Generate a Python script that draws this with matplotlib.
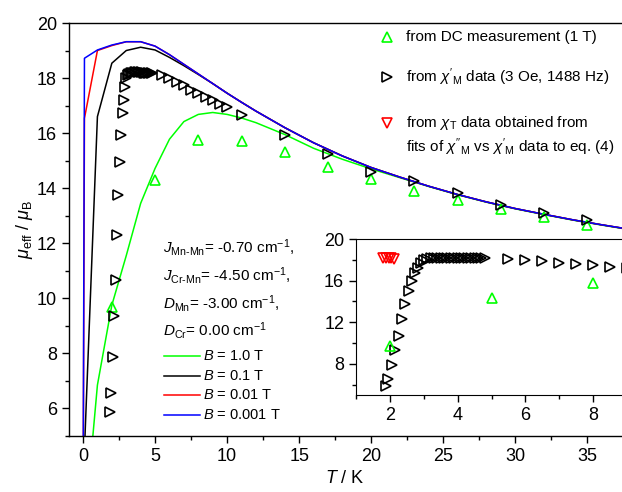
import matplotlib
matplotlib.use('Agg')

import matplotlib.pyplot as plt
from matplotlib.lines import Line2D
from matplotlib.ticker import MultipleLocator

plt.rcParams['font.family'] = ['Liberation Sans', 'DejaVu Sans']
plt.rcParams['mathtext.fontset'] = 'custom'
plt.rcParams['mathtext.rm'] = 'Liberation Sans'
plt.rcParams['mathtext.it'] = 'Liberation Sans:italic'
plt.rcParams['mathtext.bf'] = 'Liberation Sans:bold'

GREEN = '#00ff00'
BLACK = '#000000'
RED = '#ff0000'
BLUE = '#0000ff'

# DC measurement (1 T)
dc_T = [2, 5, 8, 11, 14, 17, 20, 23, 26, 29, 32, 35]
dc_mu = [9.70, 14.30, 15.75, 15.72, 15.30, 14.78, 14.32, 13.91, 13.57, 13.23, 12.94, 12.66]

# chi'_M data (3 Oe, 1488 Hz)
ac_T = [1.88, 1.95, 2.05, 2.16, 2.26, 2.35, 2.45, 2.55, 2.65, 2.75, 2.83, 2.91, 3.0,
        3.1, 3.2, 3.3, 3.4, 3.5, 3.6, 3.7, 3.8, 3.9, 4.0, 4.1, 4.2, 4.3, 4.4, 4.5,
        4.6, 4.7, 4.8,
        5.5, 6.0, 6.5, 7.0, 7.5, 8.0, 8.5, 9.0, 9.5, 10.0, 11.0,
        14.0, 17.0, 20.0, 23.0, 26.0, 29.0, 32.0, 35.0]
ac_mu = [5.86, 6.56, 7.87, 9.37, 10.65, 12.31, 13.75, 14.96, 15.92, 16.72, 17.20, 17.68, 18.00,
         18.12, 18.16, 18.18, 18.20, 18.20, 18.21, 18.21, 18.21, 18.21, 18.21, 18.21, 18.20, 18.20, 18.20, 18.20,
         18.19, 18.18, 18.17,
         18.10, 18.00, 17.84, 17.74, 17.58, 17.46, 17.30, 17.20, 17.07, 16.94, 16.66,
         15.93, 15.24, 14.60, 14.27, 13.84, 13.39, 13.11, 12.84]

# chi_T from fits
chiT_T = [1.80, 1.88, 1.96, 2.04, 2.12]
chiT_mu = [18.20, 18.18, 18.16, 18.14, 18.12]

# model curves
model_T = [0.01, 0.1, 1, 2, 3, 4, 5, 6, 7, 8, 9, 10, 11, 12, 14, 16, 18, 20,
           22, 24, 26, 28, 30, 32, 34, 36, 38]
mu_1T = [1.10, 1.60, 6.85, 9.75, 11.55, 13.45, 14.72, 15.78, 16.42, 16.68, 16.75, 16.68, 16.55, 16.38,
         15.95, 15.45, 15.05, 14.70, 14.38, 14.06, 13.76, 13.49, 13.25, 13.04, 12.84, 12.66, 12.49]
mu_01T = [2.00, 4.50, 16.60, 18.54, 19.00, 19.12, 19.02, 18.75, 18.45, 18.13, 17.80, 17.45, 17.12, 16.80,
          16.20, 15.65, 15.17, 14.75, 14.40, 14.07, 13.77, 13.50, 13.26, 13.05, 12.85, 12.67, 12.50]
mu_001T = [3.00, 16.54, 19.00, 19.18, 19.32, 19.32, 19.16, 18.85, 18.50, 18.15, 17.80, 17.45, 17.12, 16.80,
           16.20, 15.65, 15.17, 14.75, 14.40, 14.07, 13.77, 13.50, 13.26, 13.05, 12.85, 12.67, 12.50]
mu_0001T = [3.00, 18.72, 19.02, 19.20, 19.32, 19.32, 19.16, 18.85, 18.50, 18.15, 17.80, 17.45, 17.12, 16.80,
            16.20, 15.65, 15.17, 14.75, 14.40, 14.07, 13.77, 13.50, 13.26, 13.05, 12.85, 12.67, 12.50]

W, H = 622, 492


def fx(px):
    return px / W


def fy(py):
    return 1 - py / H


fig = plt.figure(figsize=(W / 100, H / 100), dpi=100)

# main axes
ax = fig.add_axes([fx(68.6), fy(436), fx(622) - fx(68.6), (436 - 23) / H])
ax.plot(model_T, mu_1T, color=GREEN, lw=1.1)
ax.plot(model_T, mu_01T, color=BLACK, lw=1.1)
ax.plot(model_T, mu_001T, color=RED, lw=1.1)
ax.plot(model_T, mu_0001T, color=BLUE, lw=1.1)
ax.plot(dc_T, dc_mu, ls='none', marker='^', ms=6.5, mfc='none', mec=GREEN, mew=1.2)
ax.plot(ac_T, ac_mu, ls='none', marker='>', ms=6.5, mfc='none', mec=BLACK, mew=1.2)

ax.set_xlim(-1, 37.4)
ax.set_ylim(5, 20)
ax.spines['right'].set_visible(False)
for s in ax.spines.values():
    s.set_linewidth(1.0)
ax.xaxis.set_major_locator(MultipleLocator(5))
ax.xaxis.set_minor_locator(MultipleLocator(2.5))
ax.yaxis.set_major_locator(MultipleLocator(2))
ax.yaxis.set_minor_locator(MultipleLocator(1))
ax.tick_params(which='both', direction='out', top=False, right=False, labelsize=13, width=1.0)
ax.tick_params(which='major', length=5)
ax.tick_params(which='minor', length=3)
ax.set_xlabel(r'$T$ / K', fontsize=13, labelpad=4)
ax.set_ylabel(r'$\mu_{\rm eff}$ / $\mu_{\rm B}$', fontsize=13, labelpad=1)

# legend for the data (top right)
leg_items = [
    ('^', GREEN, 36.7, 'from DC measurement (1 T)'),
    ('>', BLACK, 77.3, r"from $\chi'_{\rm M}$ data (3 Oe, 1488 Hz)"),
    ('v', RED, 123.3, r'from $\chi_{\rm T}$ data obtained from'),
]
for mk, col, py, label in leg_items:
    fig.add_artist(Line2D([fx(386.7)], [fy(py)], marker=mk, ms=6.5, mfc='none', mec=col,
                          mew=1.2, ls='none', transform=fig.transFigure))
    fig.text(fx(406), fy(py), label, fontsize=11, va='center', ha='left')
fig.text(fx(406), fy(147.7), r"fits of $\chi''_{\rm M}$ vs $\chi'_{\rm M}$ data to eq. (4)",
         fontsize=11, va='center', ha='left')

# parameter block
params = [
    (252.3, '$J_{\\rm Mn\u2010Mn}$= -0.70 cm$^{-1}$,'),
    (280.7, '$J_{\\rm Cr\u2010Mn}$= -4.50 cm$^{-1}$,'),
    (309.0, '$D_{\\rm Mn}$= -3.00 cm$^{-1}$,'),
    (335.7, '$D_{\\rm Cr}$= 0.00 cm$^{-1}$'),
]
for py, txt in params:
    fig.text(fx(163), fy(py), txt, fontsize=11, va='baseline', ha='left')

curve_leg = [
    (GREEN, 356, r'$B$ = 1.0 T'),
    (BLACK, 375.5, r'$B$ = 0.1 T'),
    (RED, 395, r'$B$ = 0.01 T'),
    (BLUE, 415, r'$B$ = 0.001 T'),
]
for col, py, txt in curve_leg:
    fig.add_artist(Line2D([fx(164), fx(200)], [fy(py), fy(py)], color=col, lw=1.1,
                          transform=fig.transFigure))
    fig.text(fx(203), fy(py), txt, fontsize=10.5, va='center', ha='left')

# inset
ax2 = fig.add_axes([fx(356), fy(395), fx(622) - fx(356), (395 - 239) / H])
ax2.plot(chiT_T, chiT_mu, ls='none', marker='v', ms=6.5, mfc='none', mec=RED, mew=1.2)
ax2.plot(ac_T, ac_mu, ls='none', marker='>', ms=6.5, mfc='none', mec=BLACK, mew=1.2)
ax2.plot(dc_T, dc_mu, ls='none', marker='^', ms=6.5, mfc='none', mec=GREEN, mew=1.2)
ax2.set_xlim(1, 8.85)
ax2.set_ylim(5, 20)
ax2.spines['right'].set_visible(False)
ax2.xaxis.set_major_locator(MultipleLocator(2))
ax2.xaxis.set_minor_locator(MultipleLocator(1))
ax2.yaxis.set_major_locator(MultipleLocator(4))
ax2.yaxis.set_minor_locator(MultipleLocator(2))
ax2.tick_params(which='both', direction='out', top=False, right=False, labelsize=13, width=1.0)
ax2.tick_params(which='major', length=5)
ax2.tick_params(which='minor', length=3)

fig.savefig('out.png', dpi=100)
plt.close(fig)
